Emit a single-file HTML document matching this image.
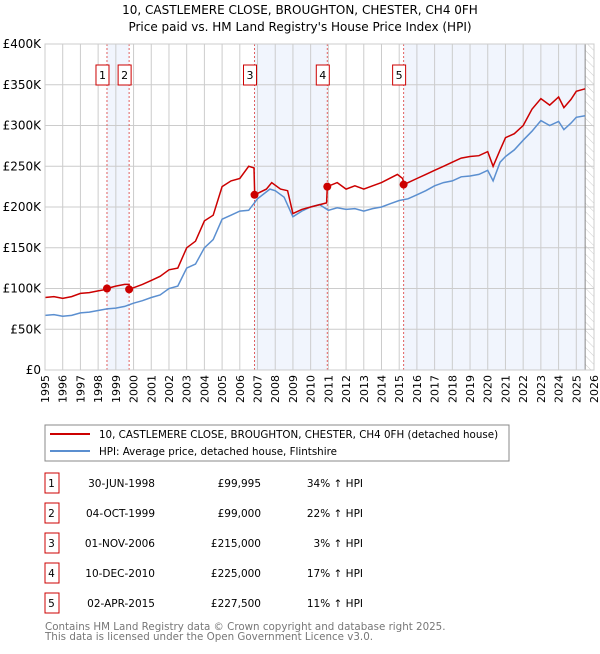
<!DOCTYPE html>
<html><head><meta charset="utf-8"><style>
body{margin:0;background:#fff;font-family:"DejaVu Sans","Liberation Sans",sans-serif;}
svg text{font-family:"DejaVu Sans","Liberation Sans",sans-serif;}
</style></head><body>
<svg id="chart" width="600" height="650" xmlns="http://www.w3.org/2000/svg">
<defs><pattern id="hatch" width="6" height="6" patternUnits="userSpaceOnUse" patternTransform="rotate(-45)"><line x1="0" y1="0" x2="0" y2="6" stroke="#ccc" stroke-width="1"/></pattern></defs>
<text x="300" y="14" text-anchor="middle" font-size="12" fill="#000">10, CASTLEMERE CLOSE, BROUGHTON, CHESTER, CH4 0FH</text>
<text x="300" y="31" text-anchor="middle" font-size="12" fill="#000">Price paid vs. HM Land Registry's House Price Index (HPI)</text>
<g id="plot"></g>
<g>
<rect x="45" y="425" width="464" height="36" fill="#fff" stroke="#888"/>
<line x1="50" y1="434" x2="90" y2="434" stroke="#cc0000" stroke-width="2"/>
<text x="99" y="438" font-size="10.3">10, CASTLEMERE CLOSE, BROUGHTON, CHESTER, CH4 0FH (detached house)</text>
<line x1="50" y1="451" x2="90" y2="451" stroke="#5b8fd0" stroke-width="2"/>
<text x="99" y="455" font-size="10.3">HPI: Average price, detached house, Flintshire</text>
</g>
<g id="table" font-size="10.5"></g>
<text x="45" y="630" font-size="10.3" fill="#777">Contains HM Land Registry data © Crown copyright and database right 2025.</text>
<text x="45" y="640" font-size="10.3" fill="#777">This data is licensed under the Open Government Licence v3.0.</text>
</svg>
<script>
const hpiYears=[1995,1995.5,1996,1996.5,1997,1997.5,1998,1998.5,1999,1999.5,2000,2000.5,2001,2001.5,2002,2002.5,2003,2003.5,2004,2004.5,2005,2005.5,2006,2006.5,2007,2007.7,2008,2008.5,2009,2009.5,2010,2010.5,2011,2011.5,2012,2012.5,2013,2013.5,2014,2014.5,2015,2015.5,2016,2016.5,2017,2017.5,2018,2018.5,2019,2019.5,2020,2020.3,2020.7,2021,2021.5,2022,2022.5,2023,2023.5,2024,2024.3,2024.7,2025,2025.5];
const hpiValues=[67,68,66,67,70,71,73,75,76,78,82,85,89,92,100,103,125,130,150,160,185,190,195,196,210,222,220,212,188,195,200,203,196,199,197,198,195,198,200,204,208,210,215,220,226,230,232,237,238,240,245,232,255,262,270,282,293,306,300,305,295,303,310,312];
const redYears=[1995,1995.5,1996,1996.5,1997,1997.5,1998,1998.5,1998.5,1999,1999.5,1999.75,1999.76,2000.5,2001,2001.5,2002,2002.5,2003,2003.5,2004,2004.5,2005,2005.5,2006,2006.5,2006.8,2006.84,2007.5,2007.8,2008.3,2008.7,2009,2009.5,2010,2010.9,2010.94,2011.5,2012,2012.5,2013,2013.5,2014,2014.9,2015.2,2015.26,2016,2016.5,2017,2017.5,2018,2018.5,2019,2019.5,2020,2020.3,2020.7,2021,2021.5,2022,2022.5,2023,2023.5,2024,2024.3,2024.7,2025,2025.5];
const redValues=[89,90,88,90,94,95,97,99,100,103,105,105,99,105,110,115,123,125,150,158,183,190,225,232,235,250,248,215,222,230,222,220,192,197,200,205,225,230,222,226,222,226,230,240,235,227.5,235,240,245,250,255,260,262,263,268,250,270,285,290,300,320,333,325,335,322,332,342,345];
const saleYears=[1998.5,1999.75,2006.83,2010.94,2015.25];
const salePrices=[99995,99000,215000,225000,227500];
const saleLabels=["1","2","3","4","5"];
const saleDates=["30-JUN-1998","04-OCT-1999","01-NOV-2006","10-DEC-2010","02-APR-2015"];
const salePriceText=["£99,995","£99,000","£215,000","£225,000","£227,500"];
const saleHpiText=["34% ↑ HPI","22% ↑ HPI","3% ↑ HPI","17% ↑ HPI","11% ↑ HPI"];
const yTicks=[0,50,100,150,200,250,300,350,400];
const yTickLabels=["£0","£50K","£100K","£150K","£200K","£250K","£300K","£350K","£400K"];
const xTicks=[1995,1996,1997,1998,1999,2000,2001,2002,2003,2004,2005,2006,2007,2008,2009,2010,2011,2012,2013,2014,2015,2016,2017,2018,2019,2020,2021,2022,2023,2024,2025,2026];

const NS="http://www.w3.org/2000/svg";
const X0=45,X1=594,Y0=370,Y1=44;
const xs=y=>X0+(y-1995)/(2026-1995)*(X1-X0);
const ys=v=>Y0-v/400*(Y0-Y1);
const plot=document.getElementById('plot');
function mk(tag,attrs,parent){const e=document.createElementNS(NS,tag);for(const k in attrs)e.setAttribute(k,attrs[k]);(parent||plot).appendChild(e);return e;}

let e=mk('rect',{x:X0,y:Y1,width:X1-X0,height:Y0-Y1,fill:'#fff'});


const bands=[[saleYears[0],saleYears[1]],[saleYears[2],saleYears[3]],[saleYears[4],2025.5]];
bands.forEach(b=>{const r=mk('rect',{x:xs(b[0]),y:Y1,width:xs(b[1])-xs(b[0]),height:Y0-Y1,fill:'#eef3fd',opacity:0.8});

});
e=mk('rect',{x:xs(2025.5),y:Y1,width:X1-xs(2025.5),height:Y0-Y1,fill:'url(#hatch)'});


xTicks.forEach(t=>{const l=mk('line',{x1:xs(t),x2:xs(t),y1:Y1,y2:Y0,stroke:'#ccc','stroke-width':1});


const tx=mk('text',{x:0,y:0,'font-size':11,'text-anchor':'end',transform:`translate(${xs(t)+4},${Y0+5}) rotate(-90)`});
tx.textContent=t;

});
yTicks.forEach((t,i)=>{const l=mk('line',{x1:X0,x2:X1,y1:ys(t),y2:ys(t),stroke:'#ccc','stroke-width':1});


const tx=mk('text',{x:X0-4,y:ys(t)+4,'font-size':12,'text-anchor':'end'});
tx.textContent=yTickLabels[i];

});
e=mk('line',{x1:xs(2025.5),x2:xs(2025.5),y1:Y1,y2:Y0,stroke:'#888'});


saleYears.forEach((s,i)=>{const l=mk('line',{x1:xs(s),x2:xs(s),y1:Y1,y2:Y0,stroke:'#e06060','stroke-dasharray':'2,2','stroke-width':1});


const bx=mk('rect',{x:xs(s)-11,y:65,width:13,height:20,fill:'#fff',stroke:'#cc0000'});


const tx=mk('text',{x:xs(s)-4.5,y:79,'font-size':11,'text-anchor':'middle'});
tx.textContent=saleLabels[i];

});
const pts=(a,b)=>a.map((y,i)=>xs(y).toFixed(1)+','+ys(b[i]).toFixed(1)).join(' ');
e=mk('polyline',{points:pts(hpiYears,hpiValues),fill:'none',stroke:'#5b8fd0','stroke-width':1.5});


e=mk('polyline',{points:pts(redYears,redValues),fill:'none',stroke:'#cc0000','stroke-width':1.5});


saleYears.forEach((s,i)=>{const c=mk('circle',{cx:xs(s),cy:ys(salePrices[i]/1000),r:4,fill:'#cc0000'});

});
e=mk('rect',{x:X0,y:Y1,width:X1-X0,height:Y0-Y1,fill:'none',stroke:'#ccc'});



const tb=document.getElementById('table');
saleLabels.forEach((lab,i)=>{const cy=483+i*30;
const bx=mk('rect',{x:45,y:cy-10,width:14,height:20,fill:'#fff',stroke:'#cc0000'},tb);


const cells=[[51.5,lab,'middle'],[155,saleDates[i],'end'],[261,salePriceText[i],'end'],[363,saleHpiText[i],'end']];
cells.forEach((c,j)=>{const t=mk('text',{x:c[0],y:cy+4,'text-anchor':c[2]},tb);
t.textContent=c[1];

});});
</script>
</body></html>
